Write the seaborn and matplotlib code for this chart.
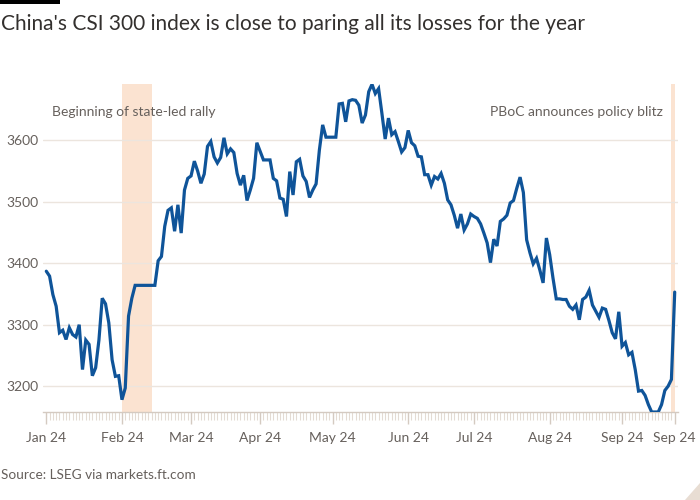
import numpy as np
import pandas as pd
import matplotlib
matplotlib.use("Agg")
import matplotlib.pyplot as plt
import seaborn as sns
from matplotlib.patches import Polygon, Rectangle

# CSI 300 daily close, one value per weekday from 1 Jan 2024 (holidays carried flat)
close = [
    3387, 3379, 3349, 3330, 3287, 3291, 3276, 3295, 3284, 3280,
    3300, 3227, 3275, 3268, 3217, 3230, 3275, 3343, 3334, 3303,
    3243, 3216, 3217, 3178, 3197, 3314, 3343, 3364, 3364, 3364,
    3364, 3364, 3364, 3364, 3404, 3411, 3460, 3486, 3490, 3452,
    3495, 3449, 3519, 3538, 3542, 3566, 3550, 3530, 3545, 3590,
    3598, 3573, 3563, 3572, 3604, 3578, 3586, 3580, 3546, 3527,
    3543, 3502, 3519, 3538, 3596, 3582, 3568, 3568, 3568, 3538,
    3534, 3506, 3504, 3476, 3549, 3511, 3565, 3569, 3542, 3533,
    3507, 3519, 3529, 3584, 3625, 3605, 3605, 3605, 3605, 3659,
    3660, 3630, 3664, 3666, 3665, 3657, 3628, 3641, 3679, 3691,
    3676, 3684, 3644, 3602, 3636, 3609, 3614, 3598, 3581, 3588,
    3616, 3596, 3591, 3574, 3573, 3544, 3544, 3527, 3541, 3537,
    3546, 3530, 3503, 3495, 3478, 3457, 3480, 3454, 3464, 3480,
    3476, 3473, 3464, 3449, 3433, 3401, 3439, 3428, 3468, 3472,
    3478, 3498, 3502, 3522, 3540, 3515, 3438, 3417, 3399, 3408,
    3389, 3368, 3441, 3414, 3376, 3342, 3342, 3341, 3341, 3330,
    3325, 3332, 3308, 3341, 3345, 3356, 3332, 3322, 3312, 3327,
    3325, 3307, 3287, 3277, 3321, 3265, 3271, 3251, 3255, 3227,
    3192, 3193, 3185, 3170, 3158, 3158, 3158, 3170, 3193, 3200,
    3211, 3353,
]

# month ticks (weekday index) and labels
tick_pos = [0, 23, 44, 65, 87, 110, 130, 153, 175, 191]
tick_labels = ["Jan 24", "Feb 24", "Mar 24", "Apr 24", "May 24",
               "Jun 24", "Jul 24", "Aug 24", "Sep 24", "Sep 24"]
y_ticks = [3200, 3300, 3400, 3500, 3600]

rally_span = (23, 32)
pboc_span = (190, 191)
rally_text = "Beginning of state-led rally"
pboc_text = "PBoC announces policy blitz"
title = "China's CSI 300 index is close to paring all its losses for the year"
source = "Source: LSEG via markets.ft.com"

BLUE = "#0f5499"
SHADE = "#fbe3d1"
GRID = "#ece5de"
TICK = "#d4cac1"
GREY = "#66605c"
DARK = "#33302e"

sns.set_theme(style="white")
plt.rcParams["font.family"] = ["Lato", "DejaVu Sans"]

W, H = 700, 500
PX = 72 / 100  # points per pixel
fig = plt.figure(figsize=(7, 5), dpi=100, facecolor="white")
ax = fig.add_axes([43 / W, 1 - 412 / H, (678 - 43) / W, (412 - 84) / H])
ax.set_facecolor("white")

df = pd.DataFrame({"day": np.arange(len(close)), "close": close})

ax.axvspan(*rally_span, color=SHADE, lw=0, zorder=0)
ax.axvspan(*pboc_span, color=SHADE, lw=0, zorder=0)
for yv in y_ticks:
    ax.axhline(yv, color=GRID, lw=1, zorder=1)

sns.lineplot(data=df, x="day", y="close", color=BLUE, lw=2.3, ax=ax,
             zorder=3, solid_joinstyle="miter")

ax.set_xlim(-1, 192)
ax.set_ylim(min(close), max(close) + 0.5)

for s in ["top", "right", "left"]:
    ax.spines[s].set_visible(False)
ax.spines["bottom"].set_color(TICK)
ax.spines["bottom"].set_linewidth(1)

ax.set_xticks(tick_pos)
ax.set_xticklabels(tick_labels)
ax.set_xticks([d for d in range(0, 192) if d not in tick_pos], minor=True)
ax.tick_params(axis="x", which="major", length=12 * PX, width=1, color=TICK,
               labelsize=10, labelcolor=GREY, pad=6, direction="out", bottom=True)
ax.tick_params(axis="x", which="minor", length=8 * PX, width=0.8, color="#e3dbd3",
               direction="out", bottom=True)

ax.set_yticks(y_ticks)
ax.set_yticklabels([str(v) for v in y_ticks])
ax.tick_params(axis="y", length=0, labelsize=10, labelcolor=GREY, pad=37 * PX)
for lab in ax.get_yticklabels():
    lab.set_horizontalalignment("left")

ax.set_xlabel("")
ax.set_ylabel("")
ax.grid(False)

ax.text(1.7, 3646, rally_text, ha="left", va="center", fontsize=10, color=GREY)
ax.text(187.4, 3646, pboc_text, ha="right", va="center", fontsize=10, color=GREY)

fig.text(1 / W, 1 - 24 / H, title, ha="left", va="center", fontsize=15,
         color=DARK)
fig.text(1 / W, 1 - 475 / H, source, ha="left", va="center", fontsize=9.8,
         color=GREY)

fig.add_artist(Rectangle((0, 1 - 4 / H), 60 / W, 4 / H, transform=fig.transFigure,
                         color="black", lw=0))
fig.add_artist(Polygon([[685 / W, 0], [1, 0], [1, 17 / H]], closed=True,
                       transform=fig.transFigure, color="#e8ddd3", lw=0))

fig.savefig("out.png", dpi=100, facecolor="white")
